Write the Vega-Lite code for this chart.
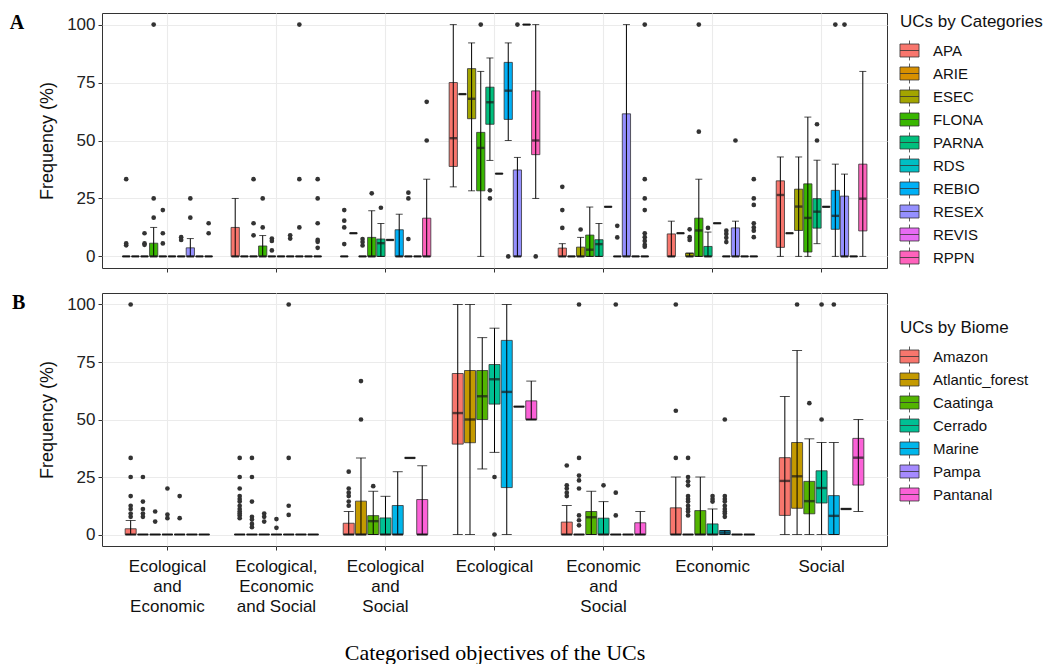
{
"$schema": "https://vega.github.io/schema/vega-lite/v6.json",
"padding": {"left": 9, "top": 12, "right": 0, "bottom": 0},
"background": "white",
"spacing": 19,
"resolve": {"scale": {"fill": "independent", "xOffset": "independent", "y": "independent"}, "legend": {"fill": "independent"}},
"config": {
  "view": {"stroke": "#333333", "strokeWidth": 1},
  "font": "Liberation Sans",
  "axis": {"domain": false, "gridColor": "#EBEBEB", "tickColor": "#333333", "labelColor": "#222222", "titleColor": "#111111", "labelFont": "Liberation Sans", "titleFont": "Liberation Sans"},
  "legend": {"orient": "none", "titleFont": "Liberation Sans", "titleFontSize": 17, "titleFontWeight": "normal", "titleColor": "#111111", "titlePadding": 10, "labelFont": "Liberation Sans", "labelFontSize": 15, "labelColor": "#111111", "symbolType": "M-1.1,-0.75H1.1V0.75H-1.1Z M-1.1,0H1.1 M0,-0.75V-1.15 M0,0.75V1.15", "symbolSize": 300, "symbolStrokeColor": "#333333", "symbolStrokeWidth": 0.8, "symbolOpacity": 1, "rowPadding": -2, "labelOffset": 14}
},
"datasets": {
"boxA": [
{"c":"Ecological and Economic","g":"APA","lo":0,"q1":0,"md":0,"q3":0,"hi":0},
{"c":"Ecological and Economic","g":"ARIE","lo":0,"q1":0,"md":0,"q3":0,"hi":0},
{"c":"Ecological and Economic","g":"ESEC","lo":0,"q1":0,"md":0,"q3":0,"hi":0},
{"c":"Ecological and Economic","g":"FLONA","lo":0,"q1":0,"md":0,"q3":5.7,"hi":12.5},
{"c":"Ecological and Economic","g":"PARNA","lo":0,"q1":0,"md":0,"q3":0,"hi":0},
{"c":"Ecological and Economic","g":"RDS","lo":0,"q1":0,"md":0,"q3":0,"hi":0},
{"c":"Ecological and Economic","g":"REBIO","lo":0,"q1":0,"md":0,"q3":0,"hi":0},
{"c":"Ecological and Economic","g":"RESEX","lo":0,"q1":0,"md":0,"q3":3.7,"hi":7.7},
{"c":"Ecological and Economic","g":"REVIS","lo":0,"q1":0,"md":0,"q3":0,"hi":0},
{"c":"Ecological and Economic","g":"RPPN","lo":0,"q1":0,"md":0,"q3":0,"hi":0},
{"c":"Ecological, Economic and Social","g":"APA","lo":0,"q1":0,"md":0,"q3":12.5,"hi":25},
{"c":"Ecological, Economic and Social","g":"ARIE","lo":0,"q1":0,"md":0,"q3":0,"hi":0},
{"c":"Ecological, Economic and Social","g":"ESEC","lo":0,"q1":0,"md":0,"q3":0,"hi":0},
{"c":"Ecological, Economic and Social","g":"FLONA","lo":0,"q1":0,"md":0,"q3":4.5,"hi":9},
{"c":"Ecological, Economic and Social","g":"PARNA","lo":0,"q1":0,"md":0,"q3":0,"hi":0},
{"c":"Ecological, Economic and Social","g":"RDS","lo":0,"q1":0,"md":0,"q3":0,"hi":0},
{"c":"Ecological, Economic and Social","g":"REBIO","lo":0,"q1":0,"md":0,"q3":0,"hi":0},
{"c":"Ecological, Economic and Social","g":"RESEX","lo":0,"q1":0,"md":0,"q3":0,"hi":0},
{"c":"Ecological, Economic and Social","g":"REVIS","lo":0,"q1":0,"md":0,"q3":0,"hi":0},
{"c":"Ecological, Economic and Social","g":"RPPN","lo":0,"q1":0,"md":0,"q3":0,"hi":0},
{"c":"Ecological and Social","g":"APA","lo":0,"q1":0,"md":0,"q3":0,"hi":0},
{"c":"Ecological and Social","g":"ARIE","lo":10,"q1":10,"md":10,"q3":10,"hi":10},
{"c":"Ecological and Social","g":"ESEC","lo":0,"q1":0,"md":0,"q3":0,"hi":0},
{"c":"Ecological and Social","g":"FLONA","lo":0,"q1":0,"md":0,"q3":8.2,"hi":19.7},
{"c":"Ecological and Social","g":"PARNA","lo":0,"q1":0,"md":5.7,"q3":7.5,"hi":14.2},
{"c":"Ecological and Social","g":"RDS","lo":7.1,"q1":7.1,"md":7.1,"q3":7.1,"hi":7.1},
{"c":"Ecological and Social","g":"REBIO","lo":0,"q1":0,"md":0,"q3":11.5,"hi":18.2},
{"c":"Ecological and Social","g":"RESEX","lo":0,"q1":0,"md":0,"q3":0,"hi":0},
{"c":"Ecological and Social","g":"REVIS","lo":0,"q1":0,"md":0,"q3":0,"hi":0},
{"c":"Ecological and Social","g":"RPPN","lo":0,"q1":0,"md":0,"q3":16.5,"hi":33.3},
{"c":"Ecological","g":"APA","lo":30,"q1":38.8,"md":51,"q3":75,"hi":100},
{"c":"Ecological","g":"ARIE","lo":70,"q1":70,"md":70,"q3":70,"hi":70},
{"c":"Ecological","g":"ESEC","lo":28.3,"q1":59.4,"md":68,"q3":81,"hi":92.1},
{"c":"Ecological","g":"FLONA","lo":0,"q1":28.3,"md":46.8,"q3":53.5,"hi":79.8},
{"c":"Ecological","g":"PARNA","lo":41.4,"q1":57,"md":66.5,"q3":73,"hi":85.6},
{"c":"Ecological","g":"RDS","lo":35.7,"q1":35.7,"md":35.7,"q3":35.7,"hi":35.7},
{"c":"Ecological","g":"REBIO","lo":50,"q1":59.1,"md":71.5,"q3":83.7,"hi":92.1},
{"c":"Ecological","g":"RESEX","lo":0,"q1":0,"md":0,"q3":37.3,"hi":42.7},
{"c":"Ecological","g":"REVIS","lo":100,"q1":100,"md":100,"q3":100,"hi":100},
{"c":"Ecological","g":"RPPN","lo":25,"q1":43.9,"md":50,"q3":71.4,"hi":100},
{"c":"Economic and Social","g":"APA","lo":0,"q1":0,"md":0,"q3":3.6,"hi":5.5},
{"c":"Economic and Social","g":"ARIE","lo":0,"q1":0,"md":0,"q3":0,"hi":0},
{"c":"Economic and Social","g":"ESEC","lo":0,"q1":0,"md":0,"q3":4,"hi":8.2},
{"c":"Economic and Social","g":"FLONA","lo":0,"q1":0,"md":2.9,"q3":9.2,"hi":21.3},
{"c":"Economic and Social","g":"PARNA","lo":0,"q1":0,"md":5.3,"q3":7.2,"hi":14.2},
{"c":"Economic and Social","g":"RDS","lo":21.4,"q1":21.4,"md":21.4,"q3":21.4,"hi":21.4},
{"c":"Economic and Social","g":"REBIO","lo":0,"q1":0,"md":0,"q3":0,"hi":0},
{"c":"Economic and Social","g":"RESEX","lo":0,"q1":0,"md":0,"q3":61.5,"hi":100},
{"c":"Economic and Social","g":"REVIS","lo":0,"q1":0,"md":0,"q3":0,"hi":0},
{"c":"Economic and Social","g":"RPPN","lo":0,"q1":0,"md":0,"q3":0,"hi":0},
{"c":"Economic","g":"APA","lo":0,"q1":0,"md":0,"q3":9.7,"hi":15.2},
{"c":"Economic","g":"ARIE","lo":10,"q1":10,"md":10,"q3":10,"hi":10},
{"c":"Economic","g":"ESEC","lo":0,"q1":0,"md":0,"q3":1.4,"hi":1.4},
{"c":"Economic","g":"FLONA","lo":0,"q1":0,"md":11.2,"q3":16.5,"hi":33.3},
{"c":"Economic","g":"PARNA","lo":0,"q1":0,"md":0,"q3":4.3,"hi":10.5},
{"c":"Economic","g":"RDS","lo":14.3,"q1":14.3,"md":14.3,"q3":14.3,"hi":14.3},
{"c":"Economic","g":"REBIO","lo":0,"q1":0,"md":0,"q3":0,"hi":0},
{"c":"Economic","g":"RESEX","lo":0,"q1":0,"md":0,"q3":12.3,"hi":15.2},
{"c":"Economic","g":"REVIS","lo":0,"q1":0,"md":0,"q3":0,"hi":0},
{"c":"Economic","g":"RPPN","lo":0,"q1":0,"md":0,"q3":0,"hi":0},
{"c":"Social","g":"APA","lo":0,"q1":3.9,"md":26.5,"q3":32.6,"hi":42.9},
{"c":"Social","g":"ARIE","lo":10,"q1":10,"md":10,"q3":10,"hi":10},
{"c":"Social","g":"ESEC","lo":0,"q1":11.2,"md":21.5,"q3":29,"hi":42.9},
{"c":"Social","g":"FLONA","lo":0,"q1":1.9,"md":16.6,"q3":31.3,"hi":60.1},
{"c":"Social","g":"PARNA","lo":5.5,"q1":12.2,"md":19.3,"q3":24.9,"hi":41.5},
{"c":"Social","g":"RDS","lo":21.4,"q1":21.4,"md":21.4,"q3":21.4,"hi":21.4},
{"c":"Social","g":"REBIO","lo":0,"q1":11.7,"md":17.5,"q3":28.5,"hi":39.8},
{"c":"Social","g":"RESEX","lo":0,"q1":0,"md":0,"q3":26,"hi":35.5},
{"c":"Social","g":"REVIS","lo":0,"q1":0,"md":0,"q3":0,"hi":0},
{"c":"Social","g":"RPPN","lo":0,"q1":11,"md":24.9,"q3":39.8,"hi":79.8}
],
"outA": [
{"c":"Ecological and Economic","g":"APA","v":33.3},{"c":"Ecological and Economic","g":"APA","v":5.6},{"c":"Ecological and Economic","g":"APA","v":4.8},
{"c":"Ecological and Economic","g":"ESEC","v":10},{"c":"Ecological and Economic","g":"ESEC","v":5.6},{"c":"Ecological and Economic","g":"ESEC","v":5},
{"c":"Ecological and Economic","g":"FLONA","v":100},{"c":"Ecological and Economic","g":"FLONA","v":25},{"c":"Ecological and Economic","g":"FLONA","v":16.7},
{"c":"Ecological and Economic","g":"PARNA","v":20},{"c":"Ecological and Economic","g":"PARNA","v":10},{"c":"Ecological and Economic","g":"PARNA","v":5.6},
{"c":"Ecological and Economic","g":"REBIO","v":8.3},{"c":"Ecological and Economic","g":"REBIO","v":7.1},
{"c":"Ecological and Economic","g":"RESEX","v":25},{"c":"Ecological and Economic","g":"RESEX","v":16.7},
{"c":"Ecological and Economic","g":"RPPN","v":14.3},{"c":"Ecological and Economic","g":"RPPN","v":10},
{"c":"Ecological, Economic and Social","g":"ESEC","v":33.3},{"c":"Ecological, Economic and Social","g":"ESEC","v":14.3},{"c":"Ecological, Economic and Social","g":"ESEC","v":9.1},
{"c":"Ecological, Economic and Social","g":"FLONA","v":25},{"c":"Ecological, Economic and Social","g":"FLONA","v":12.5},
{"c":"Ecological, Economic and Social","g":"PARNA","v":7.7},{"c":"Ecological, Economic and Social","g":"PARNA","v":6.7},{"c":"Ecological, Economic and Social","g":"PARNA","v":2.6},
{"c":"Ecological, Economic and Social","g":"REBIO","v":9.1},{"c":"Ecological, Economic and Social","g":"REBIO","v":7.7},
{"c":"Ecological, Economic and Social","g":"RESEX","v":100},{"c":"Ecological, Economic and Social","g":"RESEX","v":33.3},{"c":"Ecological, Economic and Social","g":"RESEX","v":12.5},
{"c":"Ecological, Economic and Social","g":"RPPN","v":33.3},{"c":"Ecological, Economic and Social","g":"RPPN","v":25},{"c":"Ecological, Economic and Social","g":"RPPN","v":14.3},{"c":"Ecological, Economic and Social","g":"RPPN","v":7.1},{"c":"Ecological, Economic and Social","g":"RPPN","v":6.3},{"c":"Ecological, Economic and Social","g":"RPPN","v":3.7},
{"c":"Ecological and Social","g":"APA","v":20},{"c":"Ecological and Social","g":"APA","v":15.4},{"c":"Ecological and Social","g":"APA","v":12.5},{"c":"Ecological and Social","g":"APA","v":5.3},
{"c":"Ecological and Social","g":"ESEC","v":7.5},{"c":"Ecological and Social","g":"ESEC","v":6.2},{"c":"Ecological and Social","g":"ESEC","v":4.7},
{"c":"Ecological and Social","g":"FLONA","v":27.2},
{"c":"Ecological and Social","g":"PARNA","v":21},
{"c":"Ecological and Social","g":"RESEX","v":27.5},{"c":"Ecological and Social","g":"RESEX","v":25},{"c":"Ecological and Social","g":"RESEX","v":7.5},
{"c":"Ecological and Social","g":"RPPN","v":66.7},{"c":"Ecological and Social","g":"RPPN","v":50},
{"c":"Ecological","g":"FLONA","v":100},
{"c":"Ecological","g":"PARNA","v":28.5},{"c":"Ecological","g":"PARNA","v":25},
{"c":"Ecological","g":"REBIO","v":0},
{"c":"Ecological","g":"RESEX","v":100},
{"c":"Ecological","g":"RPPN","v":0},
{"c":"Economic and Social","g":"APA","v":30},{"c":"Economic and Social","g":"APA","v":20},{"c":"Economic and Social","g":"APA","v":12.3},
{"c":"Economic and Social","g":"ESEC","v":11.6},
{"c":"Economic and Social","g":"REBIO","v":13.2},{"c":"Economic and Social","g":"REBIO","v":8.2},
{"c":"Economic and Social","g":"RPPN","v":100},{"c":"Economic and Social","g":"RPPN","v":33.3},{"c":"Economic and Social","g":"RPPN","v":25},{"c":"Economic and Social","g":"RPPN","v":20},{"c":"Economic and Social","g":"RPPN","v":10},{"c":"Economic and Social","g":"RPPN","v":8.3},{"c":"Economic and Social","g":"RPPN","v":6.7},{"c":"Economic and Social","g":"RPPN","v":5},{"c":"Economic and Social","g":"RPPN","v":4.2},
{"c":"Economic","g":"ESEC","v":11.7},{"c":"Economic","g":"ESEC","v":8.3},{"c":"Economic","g":"ESEC","v":7.1},
{"c":"Economic","g":"FLONA","v":100},{"c":"Economic","g":"FLONA","v":53.8},
{"c":"Economic","g":"PARNA","v":12.3},
{"c":"Economic","g":"REBIO","v":11.1},{"c":"Economic","g":"REBIO","v":9.7},{"c":"Economic","g":"REBIO","v":8},{"c":"Economic","g":"REBIO","v":6.2},
{"c":"Economic","g":"RESEX","v":50},
{"c":"Economic","g":"RPPN","v":33.3},{"c":"Economic","g":"RPPN","v":25},{"c":"Economic","g":"RPPN","v":22.2},{"c":"Economic","g":"RPPN","v":14.3},{"c":"Economic","g":"RPPN","v":12.5},{"c":"Economic","g":"RPPN","v":11.1},{"c":"Economic","g":"RPPN","v":8.3},
{"c":"Social","g":"PARNA","v":57},{"c":"Social","g":"PARNA","v":50},
{"c":"Social","g":"REBIO","v":100},
{"c":"Social","g":"RESEX","v":100}
],
"boxB": [
{"c":"Ecological and Economic","g":"Amazon","lo":0,"q1":0,"md":0,"q3":2.5,"hi":6.1},
{"c":"Ecological and Economic","g":"Atlantic_forest","lo":0,"q1":0,"md":0,"q3":0,"hi":0},
{"c":"Ecological and Economic","g":"Caatinga","lo":0,"q1":0,"md":0,"q3":0,"hi":0},
{"c":"Ecological and Economic","g":"Cerrado","lo":0,"q1":0,"md":0,"q3":0,"hi":0},
{"c":"Ecological and Economic","g":"Marine","lo":0,"q1":0,"md":0,"q3":0,"hi":0},
{"c":"Ecological and Economic","g":"Pampa","lo":0,"q1":0,"md":0,"q3":0,"hi":0},
{"c":"Ecological and Economic","g":"Pantanal","lo":0,"q1":0,"md":0,"q3":0,"hi":0},
{"c":"Ecological, Economic and Social","g":"Amazon","lo":0,"q1":0,"md":0,"q3":0,"hi":0},
{"c":"Ecological, Economic and Social","g":"Atlantic_forest","lo":0,"q1":0,"md":0,"q3":0,"hi":0},
{"c":"Ecological, Economic and Social","g":"Caatinga","lo":0,"q1":0,"md":0,"q3":0,"hi":0},
{"c":"Ecological, Economic and Social","g":"Cerrado","lo":0,"q1":0,"md":0,"q3":0,"hi":0},
{"c":"Ecological, Economic and Social","g":"Marine","lo":0,"q1":0,"md":0,"q3":0,"hi":0},
{"c":"Ecological, Economic and Social","g":"Pampa","lo":0,"q1":0,"md":0,"q3":0,"hi":0},
{"c":"Ecological, Economic and Social","g":"Pantanal","lo":0,"q1":0,"md":0,"q3":0,"hi":0},
{"c":"Ecological and Social","g":"Amazon","lo":0,"q1":0,"md":0,"q3":4.9,"hi":10},
{"c":"Ecological and Social","g":"Atlantic_forest","lo":0,"q1":0,"md":0,"q3":14.5,"hi":33.3},
{"c":"Ecological and Social","g":"Caatinga","lo":0,"q1":0,"md":5.8,"q3":8.2,"hi":18.8},
{"c":"Ecological and Social","g":"Cerrado","lo":0,"q1":0,"md":0,"q3":7.2,"hi":16.6},
{"c":"Ecological and Social","g":"Marine","lo":0,"q1":0,"md":0,"q3":12.6,"hi":27.3},
{"c":"Ecological and Social","g":"Pampa","lo":33.3,"q1":33.3,"md":33.3,"q3":33.3,"hi":33.3},
{"c":"Ecological and Social","g":"Pantanal","lo":0,"q1":0,"md":0,"q3":15.2,"hi":29.9},
{"c":"Ecological","g":"Amazon","lo":0,"q1":39.3,"md":52.8,"q3":70,"hi":100},
{"c":"Ecological","g":"Atlantic_forest","lo":0,"q1":39.9,"md":50,"q3":71.3,"hi":100},
{"c":"Ecological","g":"Caatinga","lo":28.5,"q1":50,"md":60.1,"q3":71.3,"hi":85.6},
{"c":"Ecological","g":"Cerrado","lo":35.7,"q1":56.7,"md":67.5,"q3":73.9,"hi":89.7},
{"c":"Ecological","g":"Marine","lo":0,"q1":20.4,"md":62,"q3":84.4,"hi":100},
{"c":"Ecological","g":"Pampa","lo":55.6,"q1":55.6,"md":55.6,"q3":55.6,"hi":55.6},
{"c":"Ecological","g":"Pantanal","lo":50,"q1":50,"md":50,"q3":58.1,"hi":66.7},
{"c":"Economic and Social","g":"Amazon","lo":0,"q1":0,"md":0,"q3":5.4,"hi":12.6},
{"c":"Economic and Social","g":"Atlantic_forest","lo":0,"q1":0,"md":0,"q3":0,"hi":0},
{"c":"Economic and Social","g":"Caatinga","lo":0,"q1":0,"md":7.5,"q3":10,"hi":18.8},
{"c":"Economic and Social","g":"Cerrado","lo":0,"q1":0,"md":0,"q3":7.1,"hi":14.3},
{"c":"Economic and Social","g":"Marine","lo":0,"q1":0,"md":0,"q3":0,"hi":0},
{"c":"Economic and Social","g":"Pampa","lo":0,"q1":0,"md":0,"q3":0,"hi":0},
{"c":"Economic and Social","g":"Pantanal","lo":0,"q1":0,"md":0,"q3":5.1,"hi":10},
{"c":"Economic","g":"Amazon","lo":0,"q1":0,"md":0,"q3":11.6,"hi":25},
{"c":"Economic","g":"Atlantic_forest","lo":0,"q1":0,"md":0,"q3":0,"hi":0},
{"c":"Economic","g":"Caatinga","lo":0,"q1":0,"md":0,"q3":10.4,"hi":25},
{"c":"Economic","g":"Cerrado","lo":0,"q1":0,"md":0,"q3":4.6,"hi":11.1},
{"c":"Economic","g":"Marine","lo":0,"q1":0,"md":0.8,"q3":1.7,"hi":1.7},
{"c":"Economic","g":"Pampa","lo":0,"q1":0,"md":0,"q3":0,"hi":0},
{"c":"Economic","g":"Pantanal","lo":0,"q1":0,"md":0,"q3":0,"hi":0},
{"c":"Social","g":"Amazon","lo":0,"q1":8.3,"md":23.3,"q3":33.4,"hi":60},
{"c":"Social","g":"Atlantic_forest","lo":0,"q1":11.4,"md":25.3,"q3":40,"hi":80},
{"c":"Social","g":"Caatinga","lo":0,"q1":9,"md":14.5,"q3":23.1,"hi":41.6},
{"c":"Social","g":"Cerrado","lo":0,"q1":13.7,"md":20.2,"q3":27.7,"hi":40},
{"c":"Social","g":"Marine","lo":0,"q1":0,"md":8.1,"q3":16.9,"hi":40},
{"c":"Social","g":"Pampa","lo":11.1,"q1":11.1,"md":11.1,"q3":11.1,"hi":11.1},
{"c":"Social","g":"Pantanal","lo":10,"q1":21.5,"md":33.4,"q3":41.8,"hi":50}
],
"outB": [
{"c":"Ecological and Economic","g":"Amazon","v":100},{"c":"Ecological and Economic","g":"Amazon","v":33.3},{"c":"Ecological and Economic","g":"Amazon","v":25},{"c":"Ecological and Economic","g":"Amazon","v":16.7},{"c":"Ecological and Economic","g":"Amazon","v":12.5},{"c":"Ecological and Economic","g":"Amazon","v":11.1},{"c":"Ecological and Economic","g":"Amazon","v":9.1},{"c":"Ecological and Economic","g":"Amazon","v":7.7},
{"c":"Ecological and Economic","g":"Atlantic_forest","v":25},{"c":"Ecological and Economic","g":"Atlantic_forest","v":14.3},{"c":"Ecological and Economic","g":"Atlantic_forest","v":11.1},{"c":"Ecological and Economic","g":"Atlantic_forest","v":9.1},{"c":"Ecological and Economic","g":"Atlantic_forest","v":7.7},
{"c":"Ecological and Economic","g":"Caatinga","v":10},{"c":"Ecological and Economic","g":"Caatinga","v":5.6},
{"c":"Ecological and Economic","g":"Cerrado","v":20},{"c":"Ecological and Economic","g":"Cerrado","v":8.7},{"c":"Ecological and Economic","g":"Cerrado","v":7.1},
{"c":"Ecological and Economic","g":"Marine","v":16.7},{"c":"Ecological and Economic","g":"Marine","v":7.1},
{"c":"Ecological, Economic and Social","g":"Amazon","v":33.3},{"c":"Ecological, Economic and Social","g":"Amazon","v":25},{"c":"Ecological, Economic and Social","g":"Amazon","v":20},{"c":"Ecological, Economic and Social","g":"Amazon","v":16.7},{"c":"Ecological, Economic and Social","g":"Amazon","v":15.4},{"c":"Ecological, Economic and Social","g":"Amazon","v":14.3},{"c":"Ecological, Economic and Social","g":"Amazon","v":12.5},{"c":"Ecological, Economic and Social","g":"Amazon","v":11.1},{"c":"Ecological, Economic and Social","g":"Amazon","v":10},{"c":"Ecological, Economic and Social","g":"Amazon","v":9.1},{"c":"Ecological, Economic and Social","g":"Amazon","v":8.3},{"c":"Ecological, Economic and Social","g":"Amazon","v":7.1},
{"c":"Ecological, Economic and Social","g":"Atlantic_forest","v":33.3},{"c":"Ecological, Economic and Social","g":"Atlantic_forest","v":25},{"c":"Ecological, Economic and Social","g":"Atlantic_forest","v":14.3},{"c":"Ecological, Economic and Social","g":"Atlantic_forest","v":7.7},{"c":"Ecological, Economic and Social","g":"Atlantic_forest","v":6.5},{"c":"Ecological, Economic and Social","g":"Atlantic_forest","v":4.6},{"c":"Ecological, Economic and Social","g":"Atlantic_forest","v":3.2},
{"c":"Ecological, Economic and Social","g":"Caatinga","v":9.1},{"c":"Ecological, Economic and Social","g":"Caatinga","v":7.7},{"c":"Ecological, Economic and Social","g":"Caatinga","v":5.6},
{"c":"Ecological, Economic and Social","g":"Cerrado","v":6.7},{"c":"Ecological, Economic and Social","g":"Cerrado","v":2.9},
{"c":"Ecological, Economic and Social","g":"Marine","v":100},{"c":"Ecological, Economic and Social","g":"Marine","v":33.3},{"c":"Ecological, Economic and Social","g":"Marine","v":12.5},{"c":"Ecological, Economic and Social","g":"Marine","v":8.5},
{"c":"Ecological and Social","g":"Amazon","v":27.3},{"c":"Ecological and Social","g":"Amazon","v":20},{"c":"Ecological and Social","g":"Amazon","v":18.2},{"c":"Ecological and Social","g":"Amazon","v":16.7},{"c":"Ecological and Social","g":"Amazon","v":14.3},{"c":"Ecological and Social","g":"Amazon","v":12.5},
{"c":"Ecological and Social","g":"Atlantic_forest","v":66.7},{"c":"Ecological and Social","g":"Atlantic_forest","v":50},
{"c":"Ecological and Social","g":"Caatinga","v":21},
{"c":"Ecological","g":"Cerrado","v":25},{"c":"Ecological","g":"Cerrado","v":0},
{"c":"Economic and Social","g":"Amazon","v":30},{"c":"Economic and Social","g":"Amazon","v":21.4},{"c":"Economic and Social","g":"Amazon","v":20},{"c":"Economic and Social","g":"Amazon","v":18.2},{"c":"Economic and Social","g":"Amazon","v":16.7},
{"c":"Economic and Social","g":"Atlantic_forest","v":100},{"c":"Economic and Social","g":"Atlantic_forest","v":33.3},{"c":"Economic and Social","g":"Atlantic_forest","v":25.6},{"c":"Economic and Social","g":"Atlantic_forest","v":23.5},{"c":"Economic and Social","g":"Atlantic_forest","v":20},{"c":"Economic and Social","g":"Atlantic_forest","v":8.3},{"c":"Economic and Social","g":"Atlantic_forest","v":6.2},{"c":"Economic and Social","g":"Atlantic_forest","v":4},
{"c":"Economic and Social","g":"Cerrado","v":21.4},
{"c":"Economic and Social","g":"Marine","v":100},{"c":"Economic and Social","g":"Marine","v":18.2},{"c":"Economic and Social","g":"Marine","v":8.3},
{"c":"Economic","g":"Amazon","v":100},{"c":"Economic","g":"Amazon","v":53.8},{"c":"Economic","g":"Amazon","v":33.3},
{"c":"Economic","g":"Atlantic_forest","v":33.3},{"c":"Economic","g":"Atlantic_forest","v":25},{"c":"Economic","g":"Atlantic_forest","v":23.1},{"c":"Economic","g":"Atlantic_forest","v":21.4},{"c":"Economic","g":"Atlantic_forest","v":16.7},{"c":"Economic","g":"Atlantic_forest","v":15.4},{"c":"Economic","g":"Atlantic_forest","v":14.3},{"c":"Economic","g":"Atlantic_forest","v":12.5},{"c":"Economic","g":"Atlantic_forest","v":11.1},{"c":"Economic","g":"Atlantic_forest","v":10},{"c":"Economic","g":"Atlantic_forest","v":8.3},
{"c":"Economic","g":"Cerrado","v":16.7},{"c":"Economic","g":"Cerrado","v":15.4},{"c":"Economic","g":"Cerrado","v":14.3},
{"c":"Economic","g":"Marine","v":50},{"c":"Economic","g":"Marine","v":16.7},{"c":"Economic","g":"Marine","v":15.4},{"c":"Economic","g":"Marine","v":14.3},{"c":"Economic","g":"Marine","v":12.5},{"c":"Economic","g":"Marine","v":11.1},{"c":"Economic","g":"Marine","v":10},{"c":"Economic","g":"Marine","v":9.1},{"c":"Economic","g":"Marine","v":7.7},
{"c":"Social","g":"Atlantic_forest","v":100},
{"c":"Social","g":"Caatinga","v":57.1},
{"c":"Social","g":"Cerrado","v":100},{"c":"Social","g":"Cerrado","v":50},
{"c":"Social","g":"Marine","v":100}
]
},
"vconcat": [
{
  "width": 785, "height": 255,
  "title": {"text": "A", "orient": "left", "anchor": "end", "angle": 0, "align": "right", "baseline": "top", "font": "Liberation Serif", "fontWeight": "bold", "fontSize": 20, "color": "#000000", "offset": 0},
  "encoding": {
    "x": {"field": "c", "type": "nominal", "scale": {"domain": ["Ecological and Economic","Ecological, Economic and Social","Ecological and Social","Ecological","Economic and Social","Economic","Social"], "paddingInner": 0, "paddingOuter": 0.1},
      "axis": {"title": null, "labels": false, "ticks": true, "tickSize": 4, "grid": true, "gridWidth": 1.1, "bandPosition": 0.5}},
    "xOffset": {"field": "g", "type": "nominal", "scale": {"domain": ["APA","ARIE","ESEC","FLONA","PARNA","RDS","REBIO","RESEX","REVIS","RPPN"], "paddingInner": 0.1, "paddingOuter": 1.69}}
  },
  "layer": [
    {"data": {"name": "boxA"}, "mark": {"type": "bar", "stroke": "#333333", "strokeWidth": 0.8},
     "encoding": {
       "y": {"field": "q1", "type": "quantitative", "scale": {"domain": [-5, 105], "nice": false, "zero": false},
         "axis": {"title": "Frequency (%)", "titleFontSize": 18, "titleFontWeight": "normal", "titlePadding": 10, "labelFontSize": 17, "labelPadding": 3, "tickSize": 4, "grid": true,
           "values": [0, 12.5, 25, 37.5, 50, 62.5, 75, 87.5, 100],
           "labelExpr": "datum.value % 25 == 0 ? datum.label : ''",
           "tickOpacity": {"condition": {"test": "datum.value % 25 == 0", "value": 1}, "value": 0},
           "gridWidth": {"condition": {"test": "datum.value % 25 == 0", "value": 1.1}, "value": 0.55}}},
       "y2": {"field": "q3"},
       "fill": {"field": "g", "type": "nominal", "scale": {"domain": ["APA","ARIE","ESEC","FLONA","PARNA","RDS","REBIO","RESEX","REVIS","RPPN"], "range": ["#F8766D","#D89000","#A3A500","#39B600","#00BF7D","#00BFC4","#00B0F6","#9590FF","#E76BF3","#FF62BC"]},
         "legend": {"title": "UCs by Categories", "legendX": 798, "legendY": 1}}
     }},
    {"data": {"name": "boxA"}, "mark": {"type": "rule", "color": "#000000", "strokeWidth": 1},
     "encoding": {"y": {"field": "lo", "type": "quantitative"}, "y2": {"field": "hi"}}},
    {"data": {"name": "boxA"}, "mark": {"type": "tick", "color": "#000000", "size": 7, "thickness": 1},
     "encoding": {"y": {"field": "lo", "type": "quantitative"}}},
    {"data": {"name": "boxA"}, "mark": {"type": "tick", "color": "#000000", "size": 7, "thickness": 1},
     "encoding": {"y": {"field": "hi", "type": "quantitative"}}},
    {"data": {"name": "boxA"}, "mark": {"type": "tick", "color": "#1A1A1A", "size": 7.4, "thickness": 2.4},
     "encoding": {"y": {"field": "md", "type": "quantitative"}}},
    {"data": {"name": "outA"}, "mark": {"type": "circle", "size": 22, "color": "#333333", "opacity": 1},
     "encoding": {"y": {"field": "v", "type": "quantitative"}}}
  ]
},
{
  "width": 785, "height": 253,
  "title": {"text": "B", "orient": "left", "anchor": "end", "angle": 0, "align": "right", "baseline": "top", "font": "Liberation Serif", "fontWeight": "bold", "fontSize": 20, "color": "#000000", "offset": 0},
  "encoding": {
    "x": {"field": "c", "type": "nominal", "scale": {"domain": ["Ecological and Economic","Ecological, Economic and Social","Ecological and Social","Ecological","Economic and Social","Economic","Social"], "paddingInner": 0, "paddingOuter": 0.1},
      "axis": {"title": "Categorised objectives of the UCs", "titleFont": "Liberation Serif", "titleFontSize": 22, "titleFontWeight": "normal", "titleColor": "#000000", "titlePadding": 28,
        "labelFontSize": 17, "labelLineHeight": 20, "labelPadding": 8, "labelAngle": 0, "labelColor": "#111111", "tickSize": 4, "grid": true, "gridWidth": 1.1, "bandPosition": 0.5,
        "labelExpr": "datum.label == 'Ecological and Economic' ? ['Ecological','and','Economic'] : datum.label == 'Ecological, Economic and Social' ? ['Ecological,','Economic','and Social'] : datum.label == 'Ecological and Social' ? ['Ecological','and','Social'] : datum.label == 'Economic and Social' ? ['Economic','and','Social'] : datum.label"}},
    "xOffset": {"field": "g", "type": "nominal", "scale": {"domain": ["Amazon","Atlantic_forest","Caatinga","Cerrado","Marine","Pampa","Pantanal"], "paddingInner": 0.1, "paddingOuter": 1.2}}
  },
  "layer": [
    {"data": {"name": "boxB"}, "mark": {"type": "bar", "stroke": "#333333", "strokeWidth": 0.8},
     "encoding": {
       "y": {"field": "q1", "type": "quantitative", "scale": {"domain": [-5, 105], "nice": false, "zero": false},
         "axis": {"title": "Frequency (%)", "titleFontSize": 18, "titleFontWeight": "normal", "titlePadding": 10, "labelFontSize": 17, "labelPadding": 3, "tickSize": 4, "grid": true,
           "values": [0, 12.5, 25, 37.5, 50, 62.5, 75, 87.5, 100],
           "labelExpr": "datum.value % 25 == 0 ? datum.label : ''",
           "tickOpacity": {"condition": {"test": "datum.value % 25 == 0", "value": 1}, "value": 0},
           "gridWidth": {"condition": {"test": "datum.value % 25 == 0", "value": 1.1}, "value": 0.55}}},
       "y2": {"field": "q3"},
       "fill": {"field": "g", "type": "nominal", "scale": {"domain": ["Amazon","Atlantic_forest","Caatinga","Cerrado","Marine","Pampa","Pantanal"], "range": ["#F8766D","#C49A00","#53B400","#00C094","#00B6EB","#A58AFF","#FB61D7"]},
         "legend": {"title": "UCs by Biome", "legendX": 798, "legendY": 27}}
     }},
    {"data": {"name": "boxB"}, "mark": {"type": "rule", "color": "#000000", "strokeWidth": 1},
     "encoding": {"y": {"field": "lo", "type": "quantitative"}, "y2": {"field": "hi"}}},
    {"data": {"name": "boxB"}, "mark": {"type": "tick", "color": "#000000", "size": 10, "thickness": 1},
     "encoding": {"y": {"field": "lo", "type": "quantitative"}}},
    {"data": {"name": "boxB"}, "mark": {"type": "tick", "color": "#000000", "size": 10, "thickness": 1},
     "encoding": {"y": {"field": "hi", "type": "quantitative"}}},
    {"data": {"name": "boxB"}, "mark": {"type": "tick", "color": "#1A1A1A", "size": 10.5, "thickness": 2.4},
     "encoding": {"y": {"field": "md", "type": "quantitative"}}},
    {"data": {"name": "outB"}, "mark": {"type": "circle", "size": 22, "color": "#333333", "opacity": 1},
     "encoding": {"y": {"field": "v", "type": "quantitative"}}}
  ]
}
]
}
